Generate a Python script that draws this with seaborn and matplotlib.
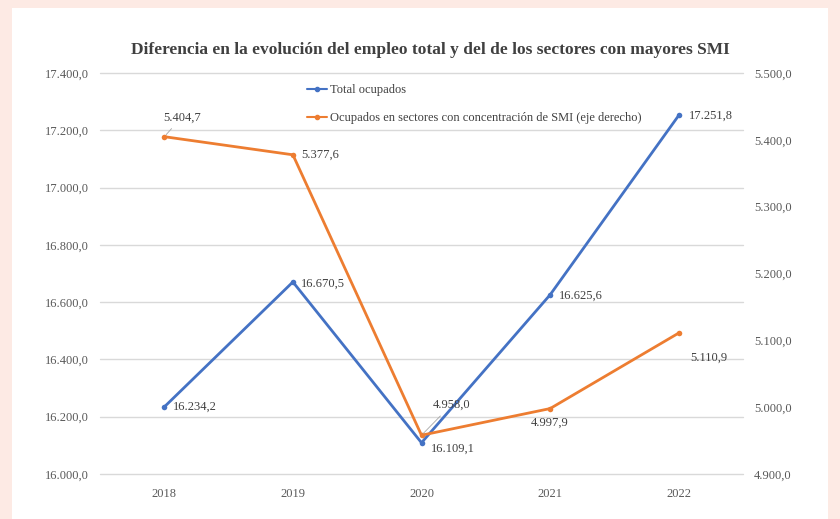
import matplotlib
matplotlib.use("Agg")
import matplotlib.pyplot as plt
from matplotlib.patches import Rectangle
from matplotlib.lines import Line2D
import seaborn as sns
import pandas as pd

# --- data ---
years = ["2018", "2019", "2020", "2021", "2022"]
total_ocupados = [16234.2, 16670.5, 16109.1, 16625.6, 17251.8]
ocupados_smi = [5404.7, 5377.6, 4958.0, 4997.9, 5110.9]
left_ticks = [16000, 16200, 16400, 16600, 16800, 17000, 17200, 17400]
right_ticks = [4900, 5000, 5100, 5200, 5300, 5400, 5500]

title = "Diferencia en la evolución del empleo total y del de los sectores con mayores SMI"
label_total = "Total ocupados"
label_smi = "Ocupados en sectores con concentración de SMI (eje derecho)"

BLUE = "#4472C4"
ORANGE = "#ED7D31"
TICK_GREY = "#595959"
LABEL_GREY = "#404040"


def es_fmt(v):
    """Spanish number format: 16.234,2"""
    return f"{v:,.1f}".replace(",", "X").replace(".", ",").replace("X", ".")


sns.set_theme(style="white")
plt.rcParams["font.family"] = ["Liberation Serif", "DejaVu Serif"]

df = pd.DataFrame({"year": years, "total": total_ocupados, "smi": ocupados_smi})

fig = plt.figure(figsize=(8.4, 5.19), dpi=100, facecolor="#fdeae4")
# white card behind the chart (drawn below the axes)
fig.patches.append(Rectangle((12 / 840, 0), 816 / 840, 511 / 519, transform=fig.transFigure,
                             facecolor="white", edgecolor="none", zorder=-10))

ax = fig.add_axes([100 / 840, 1 - 474 / 519, 643 / 840, 401 / 519])
ax.set_facecolor("none")
ax2 = ax.twinx()
ax2.set_facecolor("none")

sns.lineplot(data=df, x="year", y="total", ax=ax, color=BLUE, marker="o",
             markersize=4, markeredgewidth=0, linewidth=2, sort=False)
sns.lineplot(data=df, x="year", y="smi", ax=ax2, color=ORANGE, marker="o",
             markersize=4, markeredgewidth=0, linewidth=2, sort=False)

ax.set_xlim(-0.5, len(years) - 0.5)
ax.set_ylim(left_ticks[0], left_ticks[-1])
ax2.set_ylim(right_ticks[0], right_ticks[-1])
ax.set_yticks(left_ticks)
ax2.set_yticks(right_ticks)
ax.set_yticklabels([es_fmt(t) for t in left_ticks])
ax2.set_yticklabels([es_fmt(t) for t in right_ticks])

for a in (ax, ax2):
    a.set_xlabel("")
    a.set_ylabel("")
    for s in a.spines.values():
        s.set_visible(False)
    a.tick_params(length=0, labelsize=9, labelcolor=TICK_GREY, pad=8)
ax.tick_params(axis="x", pad=10)
ax.grid(axis="y", color="#d9d9d9", linewidth=1)
for gl in ax.get_ygridlines():
    gl.set_clip_on(False)
ax.set_axisbelow(True)
ax2.grid(False)

# data labels (offsets in points)
total_offsets = [(6, 0), (6, -1), (7, -4), (6, -1), (7, 0)]
for i, v in enumerate(total_ocupados):
    ax.annotate(es_fmt(v), (i, v), xytext=total_offsets[i], textcoords="offset points",
                ha="left", va="center", fontsize=9, color=LABEL_GREY)

smi_offsets = [(-1, 14), (6, 0), (8, 22), (0, -10), (8, -18)]
smi_ha = ["left", "left", "left", "center", "left"]
for i, v in enumerate(ocupados_smi):
    arrow = None
    if i in (0, 2):
        arrow = dict(arrowstyle="-", color="#a6a6a6", linewidth=0.6, shrinkA=2, shrinkB=2)
    ax2.annotate(es_fmt(v), (i, v), xytext=smi_offsets[i], textcoords="offset points",
                 ha=smi_ha[i], va="center", fontsize=9, color=LABEL_GREY, arrowprops=arrow)

handles = [
    Line2D([], [], color=BLUE, marker="o", markersize=3, linewidth=1.5),
    Line2D([], [], color=ORANGE, marker="o", markersize=3, linewidth=1.5),
]
ax2.legend(handles, [label_total, label_smi], loc="upper left", bbox_to_anchor=(0.305, 1.0),
           frameon=False, fontsize=9, labelcolor=LABEL_GREY, handlelength=1.6,
           handletextpad=0.2, labelspacing=1.3)

fig.text(430 / 840, 1 - 50 / 519, title, ha="center", va="center",
         fontsize=12.5, fontweight="bold", color=LABEL_GREY)

fig.savefig("out.png", dpi=100, facecolor=fig.get_facecolor())
